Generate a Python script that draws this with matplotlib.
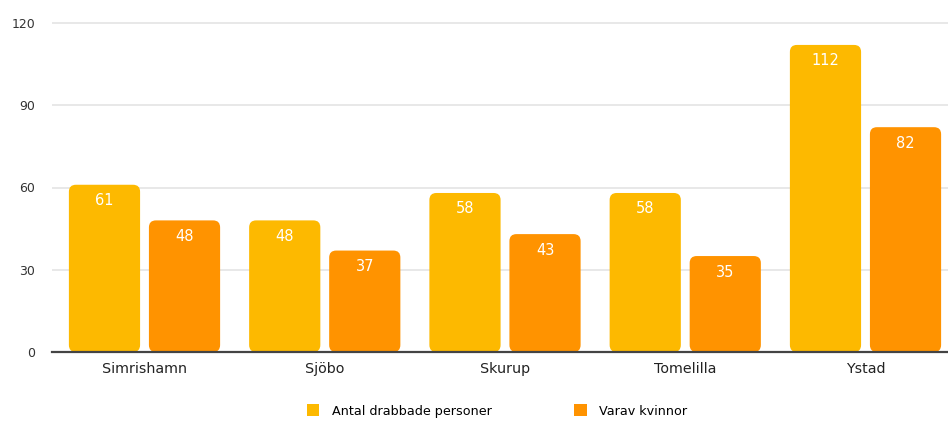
import matplotlib.pyplot as plt
import numpy as np
from matplotlib.patches import FancyBboxPatch, Patch

kommuner = ["Simrishamn", "Sjöbo", "Skurup", "Tomelilla", "Ystad"]
drabbade = [61, 48, 58, 58, 112]
kvinnor = [48, 37, 43, 35, 82]
serie_namn = ["Antal drabbade personer", "Varav kvinnor"]
farger = ["#FDB900", "#FF9300"]

W, H = 948, 422
fig = plt.figure(figsize=(W / 100, H / 100), dpi=100)
# axes in pixel coordinates: left 52, zero line at y=352, 120 at y=23
ax = fig.add_axes([52 / W, (H - 352) / H, (948 - 52) / W, (352 - 23 + 6) / H])

slot = 180.25
x0 = -(144.5 - 52) / slot
x1 = (948 - 144.5) / slot
ymax = 120 + 6 * 30 / 82.25
ax.set_xlim(x0, x1)
ax.set_ylim(0, ymax)

x = np.arange(len(kommuner))
bredd = 0.395
offs = 0.222

# aspect: y units per x unit for equal pixel radius
px_x = 1 / slot
px_y = 30 / 82.25
aspekt = px_y / px_x
radie = 7 * px_x

for serie, farg, dx in [(drabbade, farger[0], -offs), (kvinnor, farger[1], offs)]:
    for xi, v in zip(x, serie):
        p = FancyBboxPatch((xi + dx - bredd / 2, 0), bredd, v,
                           boxstyle=f"round,pad=0,rounding_size={radie}",
                           mutation_aspect=aspekt, fc=farg, ec="none", zorder=2)
        ax.add_patch(p)
        ax.text(xi + dx, v - 16 * px_y, str(v), ha="center", va="center",
                color="white", fontsize=10.5, zorder=3)

ax.set_yticks([0, 30, 60, 90, 120])
ax.tick_params(axis="y", length=0, labelsize=9, colors="#333333", pad=12)
ax.set_xticks(x)
ax.set_xticklabels(kommuner)
ax.tick_params(axis="x", length=0, labelsize=10.3, colors="#222222", pad=7)

ax.grid(axis="y", color="#e4e4e4", linewidth=1.2, zorder=0)
ax.set_axisbelow(True)
for s in ["top", "right", "left"]:
    ax.spines[s].set_visible(False)
ax.spines["bottom"].set_color("#444444")
ax.spines["bottom"].set_linewidth(1.6)
ax.spines["bottom"].set_zorder(4)

# legend
handles = [Patch(fc=c, ec="none") for c in farger]
fig.legend(handles, serie_namn, loc="center", bbox_to_anchor=(497 / W, (H - 411) / H),
           ncol=2, frameon=False, fontsize=9.2, handlelength=1.0, handleheight=1.0,
           columnspacing=6.4, handletextpad=1.0)

fig.savefig("out.png", dpi=100)
